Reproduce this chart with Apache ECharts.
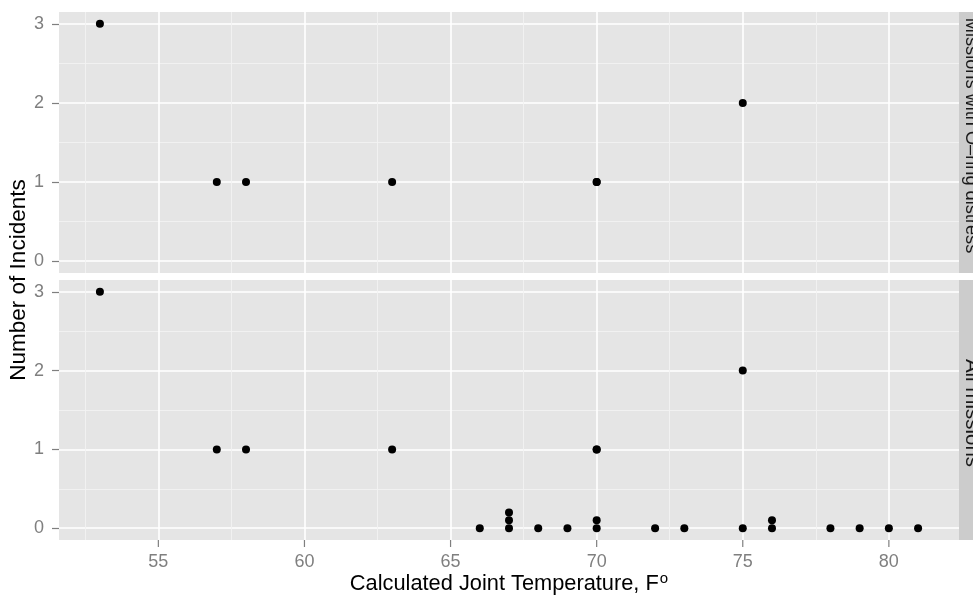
<!DOCTYPE html>
<html>
<head>
<meta charset="utf-8">
<script src="https://cdn.jsdelivr.net/npm/echarts@6/dist/echarts.min.js"></script>
<style>
  html, body { margin: 0; padding: 0; background: #ffffff; }
  #chart { width: 973px; height: 596px; }
</style>
</head>
<body>
<div id="chart"></div>
<script>
// missions with O-ring distress (top panel)
const distressTemps = [53, 57, 58, 63, 70, 70, 75];
const distressCounts = [3, 1, 1, 1, 1, 1, 2];

// all missions (bottom panel), stacked zeros
const allTemps = [53, 57, 58, 63, 66, 67, 67, 67, 68, 69, 70, 70, 70, 70, 72, 73, 75, 75, 76, 76, 78, 79, 80, 81];
const allCounts = [3, 1, 1, 1, 0, 0, 0.1, 0.2, 0, 0, 1, 1, 0, 0.1, 0, 0, 2, 0, 0, 0.1, 0, 0, 0, 0];

const panelLabels = ['Missions with O\u2013ring distress', 'All missions'];
const tempTicks = [55, 60, 65, 70, 75, 80];
const tempMinor = [52.5, 57.5, 62.5, 67.5, 72.5, 77.5];
const countTicks = [0, 1, 2, 3];
const countMinor = [0.5, 1.5, 2.5];

const xRange = [51.6, 82.4];
const yRange = [-0.15, 3.15];

const font = '"Liberation Sans", Arial, Helvetica, sans-serif';
const tickGrey = '#7f7f7f';

const grids = [
  { left: 59, right: 14, top: 12, height: 261 },
  { left: 59, right: 14, top: 280, height: 260 },
];

function pairs(xs, ys) {
  return xs.map((x, i) => [x, ys[i]]);
}

// minor axes only carry the light grid lines; they sit on the far side so they
// don't share a side with the real axis
function minorAxis(gridIndex, values, range, position) {
  return {
    type: 'value',
    gridIndex,
    position,
    min: range[0],
    max: range[1],
    axisLine: { show: false, onZero: false },
    axisTick: { show: false, customValues: values },
    axisLabel: { show: false, customValues: values },
    splitLine: { show: true, lineStyle: { color: '#f2f2f2', width: 0.9 } },
  };
}

function majorXAxis(gridIndex, withLabels) {
  return {
    type: 'value',
    gridIndex,
    min: xRange[0],
    max: xRange[1],
    axisLine: { show: false, onZero: false },
    // ticks for the bottom axis are drawn by the custom series below
    axisTick: { show: false, customValues: tempTicks },
    axisLabel: {
      show: withLabels,
      customValues: tempTicks,
      fontFamily: font,
      fontSize: 18,
      color: tickGrey,
      margin: 13,
    },
    splitLine: { show: true, lineStyle: { color: '#ffffff', width: 1.6 } },
  };
}

function majorYAxis(gridIndex) {
  return {
    type: 'value',
    gridIndex,
    position: 'left',
    min: yRange[0],
    max: yRange[1],
    axisLine: { show: false, onZero: false },
    axisTick: {
      show: true,
      customValues: countTicks,
      length: 7,
      lineStyle: { color: tickGrey, width: 1.2 },
    },
    axisLabel: {
      show: true,
      customValues: countTicks,
      fontFamily: font,
      fontSize: 18,
      color: tickGrey,
      margin: 15,
    },
    splitLine: { show: true, lineStyle: { color: '#ffffff', width: 1.6 } },
  };
}

const chart = echarts.init(document.getElementById('chart'), null, { renderer: 'canvas' });

chart.setOption({
  animation: false,
  backgroundColor: '#ffffff',
  grid: grids.map(g => Object.assign({ show: true, backgroundColor: '#e5e5e5', borderWidth: 0 }, g)),
  xAxis: [
    majorXAxis(0, false),
    minorAxis(0, tempMinor, xRange, 'top'),
    majorXAxis(1, true),
    minorAxis(1, tempMinor, xRange, 'top'),
  ],
  yAxis: [
    minorAxis(0, countMinor, yRange, 'right'),
    majorYAxis(0),
    minorAxis(1, countMinor, yRange, 'right'),
    majorYAxis(1),
  ],
  series: [
    {
      type: 'scatter',
      xAxisIndex: 0,
      yAxisIndex: 1,
      symbolSize: 8,
      itemStyle: { color: '#000000', opacity: 1 },
      data: pairs(distressTemps, distressCounts),
      z: 5,
    },
    {
      type: 'scatter',
      xAxisIndex: 2,
      yAxisIndex: 3,
      symbolSize: 8,
      itemStyle: { color: '#000000', opacity: 1 },
      data: pairs(allTemps, allCounts),
      z: 5,
    },
    {
      // short grey tick marks under the bottom panel, placed through the x scale
      type: 'custom',
      xAxisIndex: 2,
      yAxisIndex: 3,
      silent: true,
      clip: false,
      z: 5,
      data: tempTicks.map(t => [t]),
      renderItem: (params, api) => {
        const p = api.coord([api.value(0), yRange[0]]);
        return {
          type: 'line',
          shape: { x1: p[0], y1: p[1], x2: p[0], y2: p[1] + 7 },
          style: { stroke: tickGrey, lineWidth: 1.2 },
        };
      },
    },
  ],
  graphic: [
    // facet strips
    { type: 'rect', shape: { x: 959, y: 12, width: 30, height: 261 }, style: { fill: '#cccccc' }, silent: true },
    { type: 'rect', shape: { x: 959, y: 280, width: 30, height: 260 }, style: { fill: '#cccccc' }, silent: true },
    {
      type: 'text', x: 971.5, y: 135.5, rotation: -Math.PI / 2,
      style: { text: panelLabels[0], font: '18.2px ' + font, fill: '#1a1a1a', align: 'center', verticalAlign: 'middle' },
      silent: true,
    },
    {
      type: 'text', x: 971.5, y: 413, rotation: -Math.PI / 2,
      style: { text: panelLabels[1], font: '20.5px ' + font, fill: '#1a1a1a', align: 'center', verticalAlign: 'middle' },
      silent: true,
    },
    // shared axis titles
    {
      type: 'text', x: 19, y: 280, rotation: Math.PI / 2,
      style: { text: 'Number of Incidents', font: '22.5px ' + font, fill: '#000000', align: 'center', verticalAlign: 'middle' },
      silent: true,
    },
    {
      type: 'text', x: 509, y: 584,
      style: {
        text: 'Calculated Joint Temperature, F{sup|o}',
        font: '21.8px ' + font,
        fill: '#000000',
        align: 'center',
        verticalAlign: 'middle',
        rich: {
          sup: { font: '15px ' + font, fill: '#000000', verticalAlign: 'top', padding: [0, 0, 11, 1] },
        },
      },
      silent: true,
    },
  ],
});
</script>
</body>
</html>
